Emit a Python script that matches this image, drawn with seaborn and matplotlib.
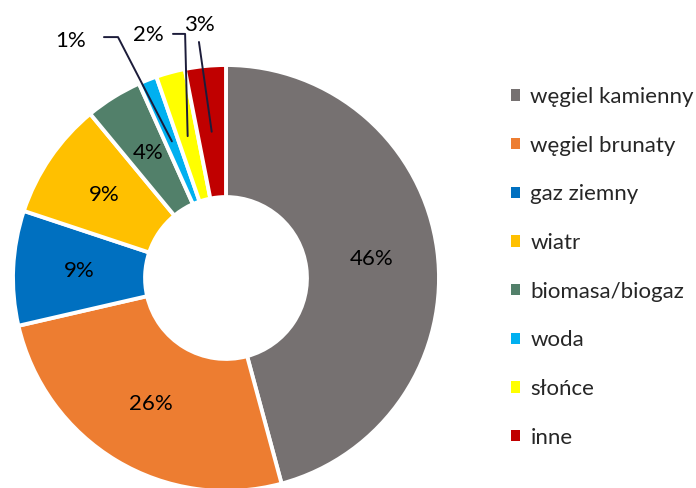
import numpy as np
import matplotlib
matplotlib.use('Agg')
import matplotlib.pyplot as plt
import seaborn as sns
from matplotlib.patches import Patch

# share of electricity generation by source
sources = ['węgiel kamienny', 'węgiel brunaty', 'gaz ziemny', 'wiatr',
           'biomasa/biogaz', 'woda', 'słońce', 'inne']
shares = [45.8, 25.6, 8.7, 8.9, 4.3, 1.4, 2.2, 3.1]
share_labels = ['46%', '26%', '9%', '9%', '4%', '1%', '2%', '3%']
colors = ['#767171', '#ED7D31', '#0070C0', '#FFC000',
          '#52806A', '#00B0F0', '#FFFF00', '#C00000']

sns.set_theme(style='white')
plt.rcParams['font.family'] = ['Lato', 'DejaVu Sans']

W, H = 696, 488
fig = plt.figure(figsize=(W / 100, H / 100), dpi=100)
cx, cy, R = 226, 278, 213
ax = fig.add_axes([(cx - R) / W, (H - cy - R) / H, 2 * R / W, 2 * R / H])

wedges, _ = ax.pie(shares, colors=colors, startangle=90, counterclock=False,
                   radius=1.0, wedgeprops=dict(width=0.62, edgecolor='white', linewidth=2.8))
ax.set_xlim(-1, 1)
ax.set_ylim(-1, 1)
ax.set_aspect('equal')
ax.axis('off')

fs = 16
r_mid = 0.69
# outside labels for the small slices: text pos, elbow pos (data units)
outside = {
    5: ((-0.73, 1.115), [(-0.573, 1.131), (-0.507, 1.131)]),
    6: ((-0.366, 1.14), [(-0.249, 1.146), (-0.192, 1.146)]),
    7: ((-0.127, 1.19), [(-0.127, 1.108)]),
}
for i, w in enumerate(wedges):
    ang = np.deg2rad((w.theta1 + w.theta2) / 2)
    px, py = r_mid * np.cos(ang), r_mid * np.sin(ang)
    if i in outside:
        tpos, pts = outside[i]
        ax.text(tpos[0], tpos[1], share_labels[i], ha='center', va='center',
                fontsize=fs, color='black', clip_on=False)
        xs = [p[0] for p in pts] + [px]
        ys = [p[1] for p in pts] + [py]
        ax.plot(xs, ys, color='#1c1c3a', lw=1.4, clip_on=False)
    else:
        ax.text(px, py, share_labels[i], ha='center', va='center',
                fontsize=fs, color='black')

handles = [Patch(facecolor=c, edgecolor='none') for c in colors]
fig.legend(handles, sources, loc='upper left', bbox_to_anchor=(511 / W, 1 - 87 / H),
           frameon=False, fontsize=fs, handlelength=0.42, handleheight=0.42,
           handletextpad=0.45, labelspacing=1.29, borderpad=0, borderaxespad=0)

fig.savefig('out.png', dpi=100)
